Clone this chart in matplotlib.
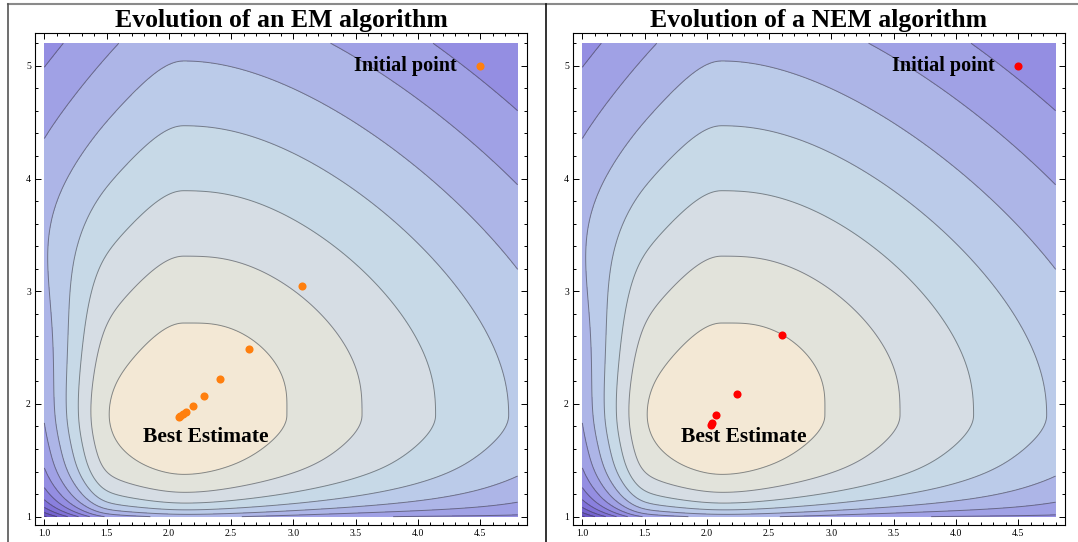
import numpy as np
import matplotlib.pyplot as plt
from matplotlib.lines import Line2D
from matplotlib.ticker import MultipleLocator

# iterates
em_x = [4.50, 3.07, 2.64, 2.41, 2.28, 2.19, 2.14, 2.11, 2.09, 2.08]
em_y = [5.00, 3.05, 2.49, 2.22, 2.07, 1.98, 1.93, 1.91, 1.89, 1.88]
nem_x = [4.50, 2.60, 2.24, 2.07, 2.04, 2.03]
nem_y = [5.00, 2.61, 2.09, 1.90, 1.83, 1.81]

titles = ["Evolution of an EM algorithm", "Evolution of a NEM algorithm"]
point_colors = ["#ff7f0e", "#ff0000"]
x_ticks = [1.0, 1.5, 2.0, 2.5, 3.0, 3.5, 4.0, 4.5]
y_ticks = [1, 2, 3, 4, 5]

# fill colours of the contour bands, from the top of the surface downwards
band_colors = ["#f3e8d5", "#e2e3db", "#d6dde4", "#c7d9e7", "#bbcbe9",
               "#adb5e7", "#a0a1e5", "#948ee2", "#8a80de", "#8072d8",
               "#7564d0", "#6a56c6", "#5f48ba", "#543aab", "#492d9a",
               "#3f2288", "#361a78"]

X0, Y0 = 2.12, 1.90


def softplus(z, k):
    return np.logaddexp(0, k * z) / k


def surface(x, y):
    # drop below the top of the surface, one unit per contour
    dx, dy = x - X0, y - Y0
    a = np.where(dx < 0, 2.4, 1.72) * (np.sqrt(dx ** 2 + 0.09) - 0.3)
    b = np.where(dy < 0, 2.4, 1.75) * (np.sqrt(dy ** 2 + 0.09) - 0.3)
    # rounder contours towards the upper right
    ap, bp = np.where(dx > 0, a, 0), np.where(dy > 0, b, 0)
    ur = 1.1 * ap * bp / (ap + bp + 1e-9) / (1 + (ap + bp) / 12)
    # steep walls along the left and bottom edges
    wall_x = 9.5 * softplus(1.46 - x, 20) / (1 + np.exp((y - 2.8) / 0.45))
    wall_y = 0.85 * softplus(1 / (y - 0.85) - 1.6, 6) / (1 + np.exp((x - 4.4) / 0.7))
    return a + b - ur + wall_x + wall_y


xs = np.linspace(1.0, 4.8, 420)
ys = np.linspace(1.0, 5.2, 460)
X, Y = np.meshgrid(xs, ys)
Z = surface(X, Y)
nlev = len(band_colors)
levels = np.arange(1, nlev)
fill_levels = np.concatenate([[Z.min() - 1], levels, [max(Z.max(), nlev) + 1]])

fig = plt.figure(figsize=(10.78, 5.42), dpi=100)
serif = "Liberation Serif"

panels = [(35, em_x, em_y), (573, nem_x, nem_y)]
for i, (left_px, px, py) in enumerate(panels):
    ax = fig.add_axes([left_px / 1078, 17 / 542, 492 / 1078, 492 / 542])
    ax.contourf(X, Y, Z, levels=fill_levels, colors=band_colors[:len(fill_levels) - 1])
    ax.contour(X, Y, Z, levels=levels, colors="#3a3a3a", linewidths=0.7, alpha=0.55)
    ax.scatter(px, py, s=34, color=point_colors[i], zorder=5, linewidths=0)
    ax.text(4.31, 5.0, "Initial point", ha="right", va="center", fontsize=14.5,
            fontweight="bold", family=serif)
    ax.text(2.294, 1.707, "Best Estimate", ha="center", va="center", fontsize=15.5,
            fontweight="bold", family=serif)
    ax.set_title(titles[i], fontsize=18.5, fontweight="bold", family=serif, pad=4)
    ax.set_xlim(0.925, 4.875)
    ax.set_ylim(0.926, 5.291)
    ax.set_xticks(x_ticks)
    ax.set_xticklabels(["%.1f" % t for t in x_ticks])
    ax.set_yticks(y_ticks)
    ax.xaxis.set_minor_locator(MultipleLocator(0.1))
    ax.yaxis.set_minor_locator(MultipleLocator(0.2))
    ax.tick_params(which="both", direction="in", top=True, right=True, width=0.7)
    ax.tick_params(which="major", length=4, labelsize=7, pad=3)
    ax.tick_params(which="minor", length=2.2)
    for lab in ax.get_xticklabels() + ax.get_yticklabels():
        lab.set_family(serif)
    for s in ax.spines.values():
        s.set_linewidth(0.8)

# table lines around the two panels
top = 1 - 4 / 542
fig.add_artist(Line2D([8 / 1078, 1], [top, top], color="#8a8a8a", lw=1.5))
fig.add_artist(Line2D([8 / 1078, 8 / 1078], [0, top], color="#555555", lw=1.2))
fig.add_artist(Line2D([546 / 1078, 546 / 1078], [0, top], color="#111111", lw=1.2))

fig.savefig("out.png", dpi=100)
